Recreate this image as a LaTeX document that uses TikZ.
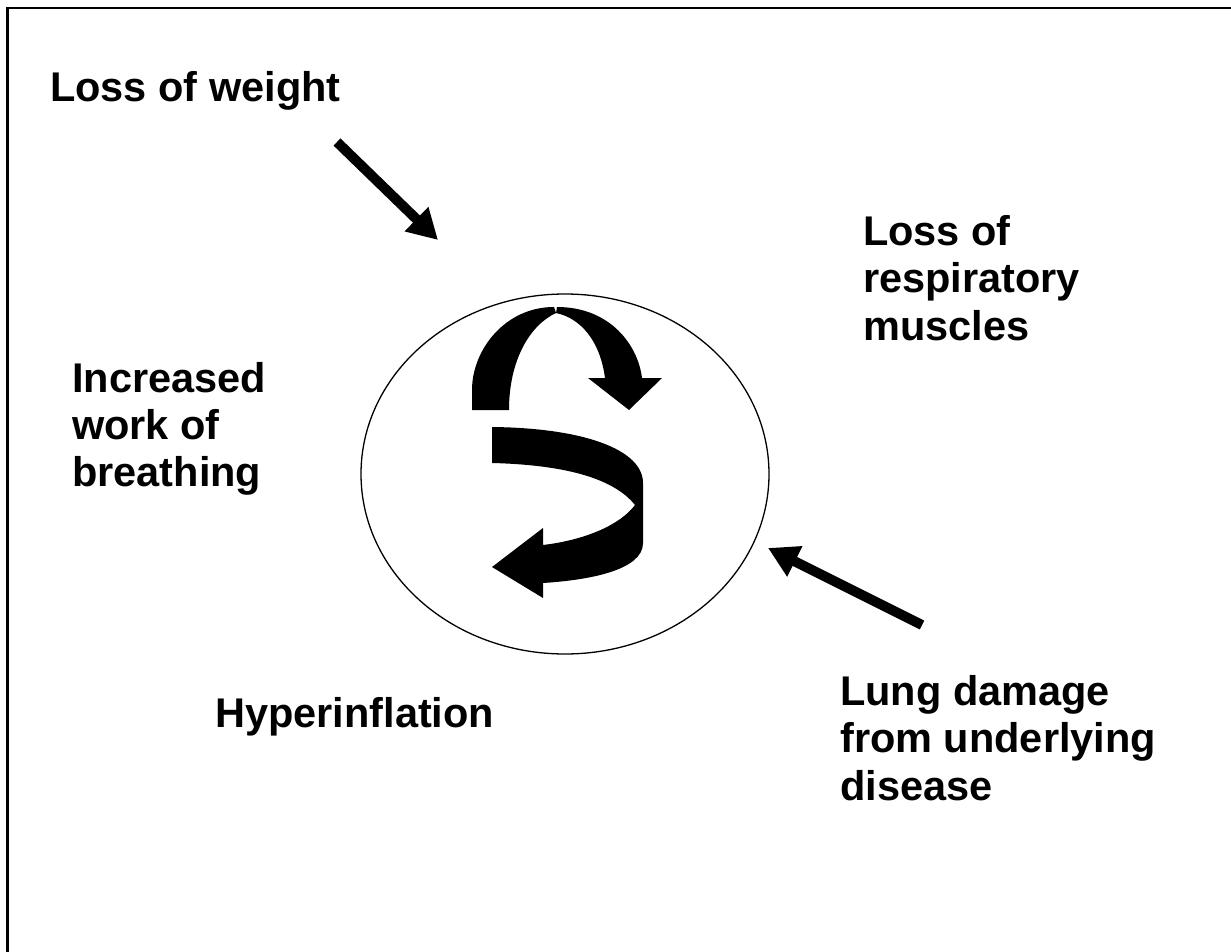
\documentclass[tikz,border=0pt]{standalone}
\usepackage{fontspec}
\setmainfont{Liberation Sans}
\usetikzlibrary{arrows.meta,shapes.geometric}
\tikzset{
  lbl/.style={anchor=base west, inner sep=0pt, font=\fontsize{41.5}{47.7}\selectfont\bfseries},
  fatarrow/.style={line width=10pt, -{Triangle[length=30pt,width=32pt]}},
  band/.style={fill=black, draw=none}
}
\begin{document}
\begin{tikzpicture}[x=1pt,y=-1pt]
\useasboundingbox (0,0) rectangle (1231,952);
% frame
\draw[line width=2.5pt] (7.5,953) -- (7.5,8) -- (1232,8);
% ellipse
\node[draw, line width=1.3pt, ellipse, minimum width=408pt, minimum height=360pt, inner sep=0pt] (cyc) at (565,474) {};
% labels
\node[lbl] (w) at (50,102) {Loss of weight};
\node[lbl] (r1) at (863,245) {Loss of};
\node[lbl] (r2) at (863,292) {respiratory};
\node[lbl] (r3) at (863,340) {muscles};
\node[lbl] (b1) at (72,392) {Increased};
\node[lbl] (b2) at (72,439) {work of};
\node[lbl] (b3) at (72,486) {breathing};
\node[lbl] (h) at (215,727) {Hyperinflation};
\node[lbl] (l1) at (840,705) {Lung damage};
\node[lbl] (l2) at (840,752) {from underlying};
\node[lbl] (l3) at (840,800) {disease};
% straight arrows
\coordinate (a1s) at (337,142);
\coordinate (a1e) at (438,240);
\draw[fatarrow] (a1s) -- (a1e);
\coordinate (a2s) at (922,625);
\coordinate (a2e) at (768,548);
\draw[fatarrow] (a2s) -- (a2e);
% top curved arrow (two touching pieces)
\fill[band] (472,410) -- (472,390) .. controls (472,350) and (505,307) .. (554,307)
  -- (556,313) .. controls (530,325) and (509,360) .. (509,410) -- cycle;
\fill[band] (557,307) .. controls (610,307) and (638,345) .. (642,378)
  -- (662,378) -- (629,410) -- (588,378) -- (605,378)
  .. controls (600,340) and (580,318) .. (556,313) -- cycle;
% bottom twisted arrow
\fill[band] (492,427) .. controls (585,428) and (643,450) .. (643,483)
  -- (643,543) .. controls (643,570) and (590,580) .. (543,583)
  -- (543,598) -- (492,567) -- (543,528) -- (543,545)
  .. controls (585,540) and (620,525) .. (635,505)
  .. controls (615,480) and (570,465) .. (492,463) -- cycle;
\end{tikzpicture}
\end{document}
